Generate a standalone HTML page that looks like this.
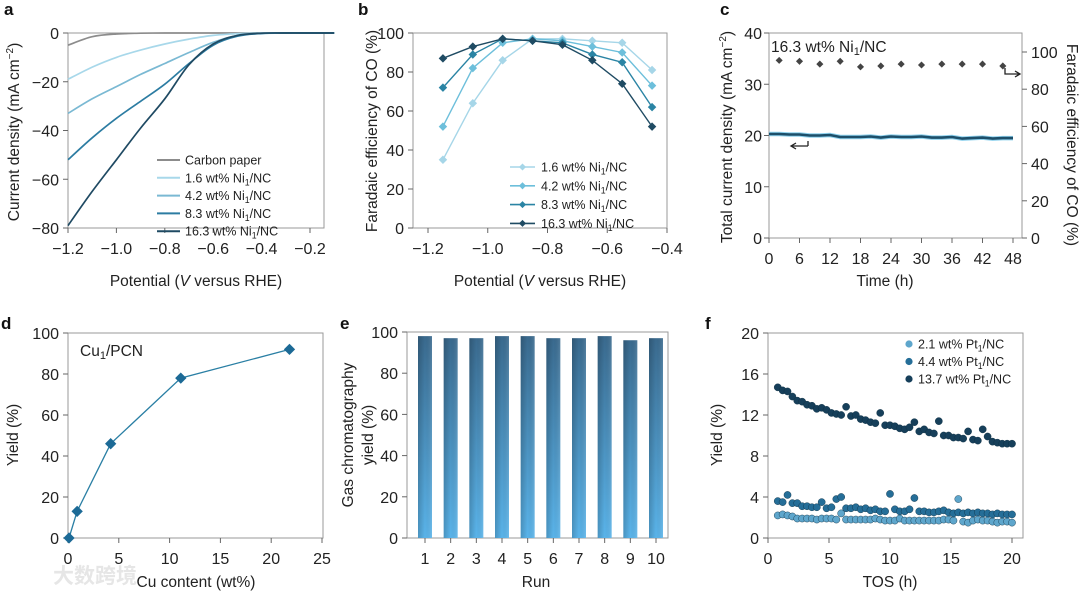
<!DOCTYPE html>
<html><head><meta charset="utf-8"><style>
body{margin:0;background:#fff;}
svg{display:block;font-family:"Liberation Sans","Noto Sans CJK SC",sans-serif;}
.tk{font-size:16px;fill:#222;}
.tt{font-size:15.5px;fill:#222;}
.pl{font-size:17px;font-weight:bold;fill:#111;}
.lg{font-size:12.5px;fill:#222;}
</style></head><body>
<svg id="fig" width="1080" height="592" viewBox="0 0 1080 592">
<defs>
<linearGradient id="barg" x1="0" y1="0" x2="0" y2="1"><stop offset="0" stop-color="#3a6a8e"/><stop offset="1" stop-color="#5ab4ea"/></linearGradient>
<linearGradient id="barh" x1="0" y1="0" x2="1" y2="0"><stop offset="0" stop-color="#000" stop-opacity="0.18"/><stop offset="0.5" stop-color="#000" stop-opacity="0"/><stop offset="1" stop-color="#fff" stop-opacity="0.12"/></linearGradient>
</defs>
</svg>
<script>
// ---- panel a data ----
const aX=[-1.2,-1.1,-1.0,-0.9,-0.8,-0.7,-0.6,-0.5,-0.4,-0.3,-0.2,-0.1];
const aCarbon=[-5,-1.5,-0.4,-0.1,0,0,0,0,0,0,0,0];
const a16=[-19,-14,-10,-7,-4.5,-2.5,-1,-0.3,0,0,0,0];
const a42=[-33,-27,-22,-17,-12.5,-8,-3.8,-1,-0.2,0,0,0];
const a83=[-52,-43,-35,-28,-21,-12.5,-5,-1.3,-0.2,0,0,0];
const a163=[-79,-65,-52,-39,-27,-13,-4.5,-1,-0.1,0,0,0];
// ---- panel b data ----
const bX=[-1.15,-1.05,-0.95,-0.85,-0.75,-0.65,-0.55,-0.45];
const b16=[35,64,86,97,97,96,95,81];
const b42=[52,82,95,97,96,93,90,73];
const b83=[72,89,97,96,95,89,85,62];
const b163=[87,93,97,96,94,86,74,52];
// ---- panel c data ----
const cT=[0,2,4,6,8,10,12,14,16,18,20,22,24,26,28,30,32,34,36,38,40,42,44,46,48];
const cJ=[20.3,20.3,20.2,20.2,20.0,20.0,20.1,19.7,19.7,19.7,19.8,19.6,19.8,19.7,19.7,19.8,19.6,19.6,19.7,19.4,19.5,19.6,19.4,19.5,19.5];
const cFT=[2,6,10,14,18,22,26,30,34,38,42,46];
const cFE=[95.5,95,93.5,95,92,92.5,93.5,93,93.5,93.5,93.5,92.5];
// ---- panel d data ----
const dX=[0.1,0.9,4.2,11.1,21.8];
const dY=[0,13,46,78,92];
// ---- panel e data ----
const eRuns=['1','2','3','4','5','6','7','8','9','10'];
const eY=[98,97,97,98,98,97,97,98,96,97];
// ---- panel f data ----
const fT=[0.8,1.2,1.6,2.0,2.4,2.8,3.2,3.6,4.0,4.4,4.8,5.2,5.6,6.0,6.4,6.8,7.2,7.6,8.0,8.4,8.8,9.2,9.6,10.0,10.4,10.8,11.2,11.6,12.0,12.4,12.8,13.2,13.6,14.0,14.4,14.8,15.2,15.6,16.0,16.4,16.8,17.2,17.6,18.0,18.4,18.8,19.2,19.6,20.0];
const f137=[14.7,14.4,14.3,13.8,13.4,13.3,13.0,12.9,12.6,12.7,12.5,12.2,12.1,12.0,12.8,11.9,12.0,11.6,11.5,11.3,11.2,12.2,11.0,11.0,10.9,10.7,10.6,10.8,11.3,10.4,10.6,10.3,10.2,11.4,10.0,10.0,9.8,9.8,9.7,10.4,9.6,9.5,10.6,9.9,9.4,9.3,9.2,9.2,9.2];
const f44=[3.6,3.5,4.2,3.4,3.4,3.1,3.1,3.0,3.0,3.5,2.9,3.0,3.8,4.0,2.9,2.9,3.0,2.8,2.9,2.7,2.8,2.6,2.6,4.3,2.8,2.6,2.6,2.8,3.9,2.6,2.6,2.5,2.5,2.6,2.7,2.5,2.4,2.5,2.4,2.5,2.4,2.5,2.4,2.4,2.3,2.4,2.3,2.3,2.3];
const f21=[2.2,2.3,2.2,2.1,1.9,1.9,1.9,1.9,1.8,1.9,1.9,1.9,1.8,2.4,1.8,1.8,1.8,1.8,1.8,1.8,1.9,1.8,1.7,1.7,1.7,1.9,1.7,1.7,1.7,1.7,1.7,1.7,1.7,1.7,1.8,1.8,1.7,3.8,1.6,1.5,1.7,1.8,1.7,1.7,1.6,1.5,1.6,1.6,1.5];

const svg=document.getElementById('fig');
const NS='http://www.w3.org/2000/svg';
function mk(tag,attrs,parent){const e=document.createElementNS(NS,tag);for(const k in attrs)e.setAttribute(k,attrs[k]);(parent||svg).appendChild(e);return e;}
function txt(s,x,y,cls,anchor,parent,rot){const t=mk('text',{x:x,y:y,class:cls,'text-anchor':anchor||'middle'},parent);if(rot)t.setAttribute('transform','rotate('+rot+' '+x+' '+y+')');t.innerHTML=s;return t;}
function lin(d0,d1,p0,p1){return v=>p0+(v-d0)/(d1-d0)*(p1-p0);}
function group(name){const g=mk('g',{});return g;}
function box(g,x0,y0,x1,y1){const r=mk('rect',{x:x0,y:y0,width:x1-x0,height:y1-y0,fill:'none',stroke:'#999','stroke-width':1},g);}
function xticks(g,vals,labels,sx,y){const ag=mk('g',{},g);vals.forEach((v,i)=>{const x=sx(v);mk('line',{x1:x,y1:y,x2:x,y2:y+5,stroke:'#666'},ag);txt(labels[i],x,y+26,'tk','middle',ag);});}
function yticks(g,vals,labels,sy,x,right,gap){gap=gap||9;const ag=mk('g',{},g);vals.forEach((v,i)=>{const y=sy(v);mk('line',{x1:x,y1:y,x2:right?x+5:x-5,y2:y,stroke:'#666'},ag);txt(labels[i],right?x+gap:x-gap,y+6,'tk',right?'start':'end',ag);});}
function smooth(pts){let d='M'+pts[0][0].toFixed(1)+','+pts[0][1].toFixed(1);for(let i=0;i<pts.length-1;i++){const p0=pts[Math.max(0,i-1)],p1=pts[i],p2=pts[i+1],p3=pts[Math.min(pts.length-1,i+2)];const c1=[p1[0]+(p2[0]-p0[0])/6,p1[1]+(p2[1]-p0[1])/6],c2=[p2[0]-(p3[0]-p1[0])/6,p2[1]-(p3[1]-p1[1])/6];d+='C'+c1[0].toFixed(1)+','+c1[1].toFixed(1)+' '+c2[0].toFixed(1)+','+c2[1].toFixed(1)+' '+p2[0].toFixed(1)+','+p2[1].toFixed(1);}return d;}
function path(g,xs,ys,sx,sy,color,w,name,sm){const pts=xs.map((x,i)=>[sx(x),sy(ys[i])]);const d=sm?smooth(pts):pts.map((p,i)=>(i?'L':'M')+p[0].toFixed(1)+','+p[1].toFixed(1)).join('');const p=mk('path',{d:d,fill:'none',stroke:color,'stroke-width':w},g);return p;}
function sub(s){const k=s.indexOf('_1');if(k<0)return s;return s.slice(0,k)+'<tspan font-size="0.7em" dy="3">1</tspan><tspan dy="-3">'+s.slice(k+2)+'</tspan>';}

// ===== Panel a =====
(function(){const g=group('panel-a');txt('a',4,15,'pl','start',g);
const sx=lin(-1.2,-0.2,68,310),sy=lin(0,-80,33,228);
box(g,68,33,324,228);
xticks(g,[-1.2,-1.0,-0.8,-0.6,-0.4,-0.2],['−1.2','−1.0','−0.8','−0.6','−0.4','−0.2'],sx,228);
yticks(g,[0,-20,-40,-60,-80],['0','−20','−40','−60','−80'],sy,68);
const ser=[[aCarbon,'#8c8c8c','Carbon paper','carbon-paper'],[a16,'#a8d8ea','1.6 wt% Ni_1/NC','1.6'],[a42,'#7ab9d3','4.2 wt% Ni_1/NC','4.2'],[a83,'#2c7ca2','8.3 wt% Ni_1/NC','8.3'],[a163,'#1f4a63','16.3 wt% Ni_1/NC','16.3']];
ser.forEach((s,i)=>{path(g,aX,s[0],sx,sy,s[1],1.7,'line-'+s[3],true);const ly=160+i*17.8;const l=mk('line',{x1:157,y1:ly,x2:180,y2:ly,stroke:s[1],'stroke-width':2},g);const t=txt(sub(s[2]),185,ly+4.5,'lg','start',g);});
txt('Current density (mA cm<tspan font-size="10" dy="-6">−2</tspan><tspan dy="6">)</tspan>',19,132,'tt','middle',g,-90);
txt('Potential (<tspan font-style="italic">V</tspan> versus RHE)',196,286,'tt','middle',g);
})();

// ===== Panel b =====
(function(){const g=group('panel-b');txt('b',358,15,'pl','start',g);
const sx=lin(-1.2,-0.4,428,667),sy=lin(0,100,228,33);
box(g,413,33,667,228);
xticks(g,[-1.2,-1.0,-0.8,-0.6,-0.4],['−1.2','−1.0','−0.8','−0.6','−0.4'],sx,228);
yticks(g,[0,20,40,60,80,100],['0','20','40','60','80','100'],sy,413);
const ser=[[b16,'#a6d6e8','1.6 wt% Ni_1/NC','1.6'],[b42,'#6dbfdb','4.2 wt% Ni_1/NC','4.2'],[b83,'#2a84a4','8.3 wt% Ni_1/NC','8.3'],[b163,'#1f4b63','16.3 wt% Ni_1/NC','16.3']];
ser.forEach((s,i)=>{path(g,bX,s[0],sx,sy,s[1],1.4,'series-'+s[3]);bX.forEach((x,j)=>{const c=mk('rect',{x:sx(x)-3,y:sy(s[0][j])-3,width:6,height:6,fill:s[1],transform:'rotate(45 '+sx(x)+' '+sy(s[0][j])+')'},g);});
const ly=167+i*18.8;mk('line',{x1:510,y1:ly,x2:535,y2:ly,stroke:s[1],'stroke-width':1.6},g);mk('rect',{x:520,y:ly-2.5,width:5,height:5,fill:s[1],transform:'rotate(45 522.5 '+ly+')'},g);const t=txt(sub(s[2]),541,ly+4.5,'lg','start',g);});
txt('Faradaic efficiency of CO (%)',377,131,'tt','middle',g,-90);
txt('Potential (<tspan font-style="italic">V</tspan> versus RHE)',540,286,'tt','middle',g);
})();

// ===== Panel c =====
(function(){const g=group('panel-c');txt('c',720,15,'pl','start',g);
const sx=lin(0,48,769,1013),sy=lin(0,40,238,33),sy2=lin(0,100,238,52);
box(g,769,33,1022,238);
xticks(g,[0,6,12,18,24,30,36,42,48],['0','6','12','18','24','30','36','42','48'],sx,238);
yticks(g,[0,10,20,30,40],['0','10','20','30','40'],sy,769,false,7);
yticks(g,[0,20,40,60,80,100],['0','20','40','60','80','100'],sy2,1022,true);
const d=cT.map((t,i)=>(i?'L':'M')+sx(t).toFixed(1)+','+sy(cJ[i]).toFixed(1)).join('');
mk('path',{d:d,fill:'none',stroke:'#8fd2ee','stroke-width':4.5},g);
const p=mk('path',{d:d,fill:'none',stroke:'#1d4f6a','stroke-width':2.6},g);
cFT.forEach((t,i)=>{const x=sx(t),y=sy2(cFE[i]);const r=mk('rect',{x:x-2.5,y:y-2.5,width:5,height:5,fill:'#444',transform:'rotate(45 '+x+' '+y+')'},g);});
txt('16.3 wt% Ni<tspan font-size="11" dy="3">1</tspan><tspan dy="-3">/NC</tspan>',771,52,'tt','start',g);
mk('path',{d:'M808,146 L792,146 M796,143 L791,146 L796,149 M808,146 L808,141',fill:'none',stroke:'#222','stroke-width':1.3},g);
mk('path',{d:'M1005,68 L1005,74 L1020,74 M1015,71 L1020,74 L1015,77',fill:'none',stroke:'#222','stroke-width':1.3},g);
txt('Total current density (mA cm<tspan font-size="10" dy="-6">−2</tspan><tspan dy="6">)</tspan>',732,137,'tt','middle',g,-90);
txt('Faradaic efficiency of CO (%)',1067,145,'tt','middle',g,90);
txt('Time (h)',885,286,'tt','middle',g);
})();

// ===== Panel d =====
(function(){const g=group('panel-d');txt('d',1,329,'pl','start',g);
const sx=lin(0,25,68,322),sy=lin(0,100,538,333);
box(g,68,333,323,538);
xticks(g,[0,5,10,15,20,25],['0','5','10','15','20','25'],sx,538);
yticks(g,[0,20,40,60,80,100],['0','20','40','60','80','100'],sy,68);
path(g,dX,dY,sx,sy,'#2a7fa4',1.3,'yield-line');
dX.forEach((x,i)=>{const cx=sx(x),cy=sy(dY[i]);const r=mk('rect',{x:cx-4,y:cy-4,width:8,height:8,fill:'#1c6a96',transform:'rotate(45 '+cx+' '+cy+')'},g);});
txt('Cu<tspan font-size="11" dy="3">1</tspan><tspan dy="-3">/PCN</tspan>',80,356,'tt','start',g);
txt('Yield (%)',18,435,'tt','middle',g,-90);
txt('Cu content (wt%)',196,587,'tt','middle',g);
const w=mk('text',{x:95,y:583,'text-anchor':'middle',style:'fill:#e6e6e6;font-size:21px;font-weight:bold;'},g);w.textContent='大数跨境';


})();

// ===== Panel e =====
(function(){const g=group('panel-e');txt('e',340,329,'pl','start',g);
const sx=lin(1,10,425,656),sy=lin(0,100,538,332);
box(g,407,332,668,538);
xticks(g,eRuns.map(Number),eRuns,sx,538);
yticks(g,[0,20,40,60,80,100],['0','20','40','60','80','100'],sy,407);
eY.forEach((v,i)=>{const x=sx(i+1);const b=mk('rect',{x:x-7,y:sy(v),width:14,height:538-sy(v),fill:'url(#barg)'},g);mk('rect',{x:x-7,y:sy(v),width:14,height:538-sy(v),fill:'url(#barh)'},g);});
txt('Gas chromatography',353,435,'tt','middle',g,-90);
txt('yield (%)',373,435,'tt','middle',g,-90);
txt('Run',536,587,'tt','middle',g);
})();

// ===== Panel f =====
(function(){const g=group('panel-f');txt('f',705,329,'pl','start',g);
const sx=lin(0,20,768,1012),sy=lin(0,20,538,333);
box(g,768,333,1023,538);
xticks(g,[0,5,10,15,20],['0','5','10','15','20'],sx,538);
yticks(g,[0,4,8,12,16,20],['0','4','8','12','16','20'],sy,768);
const ser=[[f21,'#5ea6cc','2.1 wt% Pt_1/NC','2.1'],[f44,'#256e98','4.4 wt% Pt_1/NC','4.4'],[f137,'#163f5a','13.7 wt% Pt_1/NC','13.7']];
ser.forEach((s,i)=>{fT.forEach((t,j)=>{const c=mk('circle',{cx:sx(t),cy:sy(s[0][j]),r:3.6,fill:s[1],stroke:'#0d2d40','stroke-width':0.4},g);});
const ly=344+i*17.5;mk('circle',{cx:909,cy:ly,r:3.6,fill:s[1]},g);const tt=txt(sub(s[2]),918,ly+4.5,'lg','start',g);});
txt('Yield (%)',722,435,'tt','middle',g,-90);
txt('TOS (h)',890,587,'tt','middle',g);
})();
</script>
</body></html>
